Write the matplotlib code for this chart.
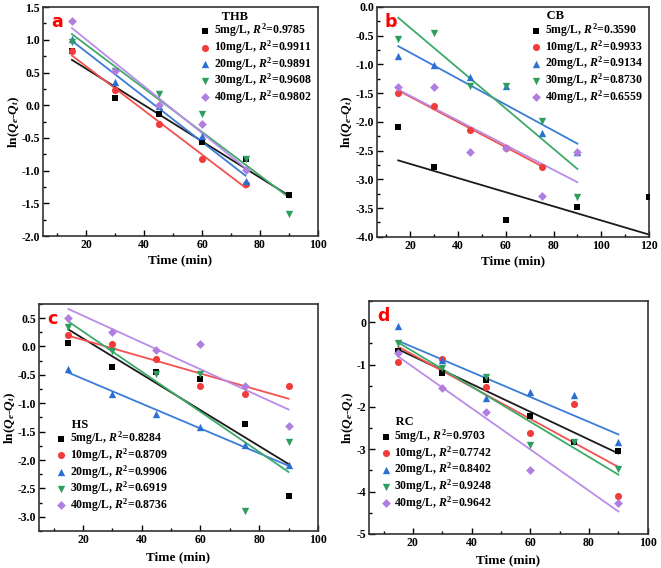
import numpy as np
import matplotlib
matplotlib.use('Agg')
import matplotlib.pyplot as plt
from matplotlib.ticker import MultipleLocator, AutoMinorLocator

plt.rcParams['font.family'] = 'Liberation Serif'
plt.rcParams['font.weight'] = 'bold'
plt.rcParams['mathtext.fontset'] = 'custom'
plt.rcParams['mathtext.rm'] = 'Liberation Serif:bold'
plt.rcParams['mathtext.it'] = 'Liberation Serif:italic:bold'
plt.rcParams['mathtext.bf'] = 'Liberation Serif:bold'

nan = np.nan
#%% data
conc = ['5mg/L', '10mg/L', '20mg/L', '30mg/L', '40mg/L']
time_std = [15, 30, 45, 60, 75, 90]
time_cb = [15, 30, 45, 60, 75, 90, 120]

# THB
thb_5 = [0.83, 0.11, -0.13, -0.57, -0.83, -1.38]
thb_10 = [0.83, 0.23, -0.29, -0.83, -1.20, nan]
thb_20 = [1.01, 0.36, -0.01, -0.47, -1.16, nan]
thb_30 = [0.96, 0.52, 0.17, -0.14, -0.82, -1.67]
thb_40 = [1.28, 0.52, 0.00, -0.29, -0.99, nan]
thb_slope = [-0.0277, -0.0337, -0.0344, -0.0333, -0.0357]
thb_icpt = [1.109, 1.265, 1.501, 1.587, 1.715]
thb_r2 = ['0.9785', '0.9911', '0.9891', '0.9608', '0.9802']

# CB
cb_5 = [-2.09, -2.78, nan, -3.70, nan, -3.48, -3.30]
cb_10 = [-1.50, -1.72, -2.14, -2.45, -2.78, nan, nan]
cb_20 = [-0.86, -1.01, -1.22, -1.38, -2.19, -2.52, nan]
cb_30 = [-0.56, -0.45, -1.37, -1.37, -1.99, -3.30, nan]
cb_40 = [-1.39, -1.39, -2.52, -2.45, -3.29, -2.52, nan]
cb_slope = [-0.01229, -0.02192, -0.02261, -0.03507, -0.02147]
cb_icpt = [-2.486, -1.126, -0.345, 0.336, -1.118]
cb_r2 = ['0.3590', '0.9933', '0.9134', '0.8730', '0.6559']

# HS
hs_5 = [0.06, -0.37, -0.45, -0.57, -1.36, -2.63]
hs_10 = [0.21, 0.05, -0.22, -0.70, -0.84, -0.70]
hs_20 = [-0.39, -0.84, -1.19, -1.42, -1.73, -2.08]
hs_30 = [0.34, -0.08, -0.49, -0.49, -2.90, -1.69]
hs_40 = [0.51, 0.26, -0.07, 0.05, -0.70, -1.40]
hs_slope = [-0.0316, -0.0148, -0.02187, -0.03533, -0.0236]
hs_icpt = [0.774, 0.412, -0.132, 0.97, 1.014]
hs_r2 = ['0.8284', '0.8709', '0.9906', '0.6919', '0.8736']

# RC
rc_5 = [-0.68, -1.19, -1.37, -2.21, -2.82, -3.05]
rc_10 = [-0.94, -0.88, -1.53, -2.62, -1.93, -4.10]
rc_20 = [-0.10, -0.90, -1.80, -1.66, -1.72, -2.84]
rc_30 = [-0.50, -1.07, -1.30, -2.90, -2.82, -3.47]
rc_40 = [-0.72, -1.55, -2.13, -3.48, nan, -4.27]
rc_slope = [-0.0328, -0.03787, -0.02947, -0.0416, -0.0488]
rc_icpt = [-0.148, -0.012, 0.002, 0.144, -0.078]
rc_r2 = ['0.9703', '0.7742', '0.8402', '0.9248', '0.9642']

#%% style
marker_col = ['#000000', '#f23c3c', '#2a6fd2', '#2e9e5e', '#b07de0']
line_col = ['#1a1a1a', '#f45050', '#3a7dd8', '#3daa6a', '#b98ce8']
markers = ['s', 'o', '^', 'v', 'D']
msize = [22, 26, 28, 28, 20]

panels = [
    dict(pos=[0.065, 0.5845, 0.416, 0.403], x=time_std,
         ys=[thb_5, thb_10, thb_20, thb_30, thb_40], slope=thb_slope, icpt=thb_icpt,
         r2=thb_r2, name='THB', pad_title=7, tag='a', xlim=(5, 100), ylim=(-2.0, 1.5),
         ystep=0.5, xticks=[20, 40, 60, 80, 100], loc='upper right',
         anchor=(1.0, 1.01), xpad=2.5, fmt='%.1f'),
    dict(pos=[0.570, 0.583, 0.412, 0.405], x=time_cb,
         ys=[cb_5, cb_10, cb_20, cb_30, cb_40], slope=cb_slope, icpt=cb_icpt,
         r2=cb_r2, name='CB', pad_title=5, tag='b', xlim=(6, 120), ylim=(-4.0, 0.0),
         ystep=0.5, xticks=[20, 40, 60, 80, 100, 120], loc='upper right',
         anchor=(1.0, 1.01), xpad=2.5, fmt='%.1f'),
    dict(pos=[0.059, 0.065, 0.422, 0.400], x=time_std,
         ys=[hs_5, hs_10, hs_20, hs_30, hs_40], slope=hs_slope, icpt=hs_icpt,
         r2=hs_r2, name='HS', pad_title=5, tag='c', xlim=(5, 100), ylim=(-3.25, 0.75),
         ystep=0.5, xticks=[20, 40, 60, 80, 100], loc='lower left',
         anchor=(0.04, 0.05), xpad=4, fmt='%.1f'),
    dict(pos=[0.558, 0.060, 0.422, 0.410], x=time_std,
         ys=[rc_5, rc_10, rc_20, rc_30, rc_40], slope=rc_slope, icpt=rc_icpt,
         r2=rc_r2, name='RC', pad_title=5, tag='d', xlim=(5, 100), ylim=(-5, 0.5),
         ystep=1, xticks=[20, 40, 60, 80, 100], loc='lower left',
         anchor=(0.02, 0.07), xpad=4, fmt='%d'),
]

fig = plt.figure(figsize=(6.61, 5.68), dpi=100)

for p in panels:
    ax = fig.add_axes(p['pos'])
    x = np.array(p['x'], dtype=float)
    for i in range(5):
        y = np.array(p['ys'][i], dtype=float)
        ok = ~np.isnan(y)
        xs = np.array([x[ok].min(), x[ok].max()])
        ax.plot(xs, p['slope'][i] * xs + p['icpt'][i], color=line_col[i], lw=1.3, zorder=2)
        ax.scatter(x[ok], y[ok], marker=markers[i], s=msize[i], color=marker_col[i],
                   linewidths=0, zorder=3,
                   label=conc[i] + r', $R^2$=' + p['r2'][i])
    ax.set_xlim(p['xlim'])
    ax.set_ylim(p['ylim'])
    ax.set_xticks(p['xticks'])
    ax.yaxis.set_major_locator(MultipleLocator(p['ystep']))
    ax.yaxis.set_major_formatter(plt.FormatStrFormatter(p['fmt']))
    ax.xaxis.set_minor_locator(AutoMinorLocator(2))
    ax.yaxis.set_minor_locator(AutoMinorLocator(2))
    ax.tick_params(which='both', direction='in', labelsize=8.5, width=1, pad=2)
    ax.tick_params(which='major', length=4)
    ax.tick_params(which='minor', length=2)
    for lab in ax.get_xticklabels() + ax.get_yticklabels():
        lab.set_fontweight('bold')
    for sp in ax.spines.values():
        sp.set_linewidth(1.2)
        sp.set_color('#333333')
    ax.set_xlabel('Time (min)', fontsize=9.5, fontweight='bold', labelpad=p['xpad'])
    ax.set_ylabel(r'ln($Q_e$-$Q_t$)', fontsize=9.5, fontweight='bold', labelpad=0)
    ax.text(0.03, 0.975, p['tag'], transform=ax.transAxes, color='red',
            fontsize=12.5, family='DejaVu Sans', va='top', ha='left')
    leg = ax.legend(loc=p['loc'], bbox_to_anchor=p['anchor'], frameon=False,
                    fontsize=8.5, title=' ' * p['pad_title'] + p['name'], alignment='left',
                    handletextpad=0.3, labelspacing=-0.08, borderaxespad=0.3,
                    handlelength=0.9, borderpad=0.2)
    leg.get_title().set_fontweight('bold')
    leg.get_title().set_fontsize(9)
    for t in leg.get_texts():
        t.set_fontweight('bold')

fig.savefig('out.png', dpi=100)
